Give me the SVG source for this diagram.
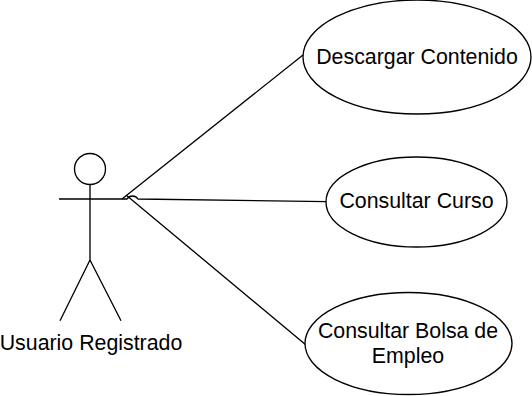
<svg xmlns="http://www.w3.org/2000/svg" width="532" height="396" viewBox="0 0 532 396">
<style>
.s{fill:none;stroke:#000;stroke-width:1.33}
.e{fill:#fff;stroke:#000;stroke-width:1.33}
text{font-family:"Liberation Sans",Arial,sans-serif;font-size:21.33px;fill:#000;text-anchor:middle}
</style>
<rect width="532" height="396" fill="#fff"/>
<g id="connectors">
<path class="s" d="M122 199 L303 55"/>
<path class="s" d="M122 199 L127 199 A6.5 6.5 0 0 1 138 199 L326.5 201.7"/>
<path class="s" d="M126 195 L306 345"/>
</g>
<g id="actor">
<circle class="e" cx="90" cy="169" r="15.5"/>
<path class="s" d="M90 184.500V260M59 199H122M90 260L60 320.700M90 260L121 320.700"/>
<text x="91" y="349.500">Usuario Registrado</text>
</g>
<g id="uc1">
<ellipse class="e" cx="417" cy="57" rx="114" ry="57"/>
<text x="417" y="63.500">Descargar Contenido</text>
</g>
<g id="uc2">
<ellipse class="e" cx="416.500" cy="202" rx="90.500" ry="45"/>
<text x="416.500" y="208">Consultar Curso</text>
</g>
<g id="uc3">
<ellipse class="e" cx="408.500" cy="343.500" rx="103.500" ry="51"/>
<text x="408" y="337.500">Consultar Bolsa de</text>
<text x="408" y="363">Empleo</text>
</g>
</svg>
